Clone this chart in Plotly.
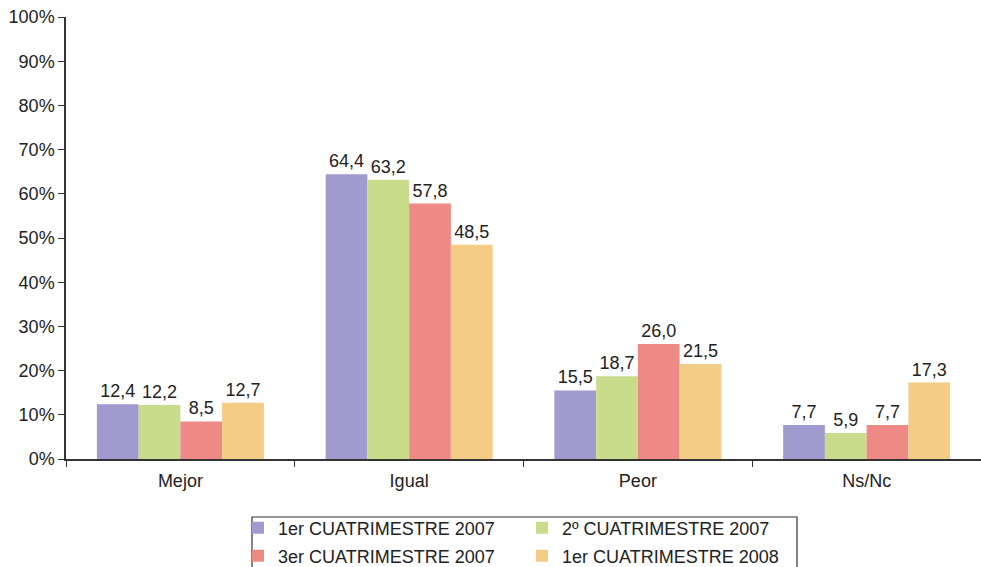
import plotly.graph_objects as go

# Opinion categories and the four survey waves
categories = ["Mejor", "Igual", "Peor", "Ns/Nc"]
series_names = [
    "1er CUATRIMESTRE 2007",
    "2º CUATRIMESTRE 2007",
    "3er CUATRIMESTRE 2007",
    "1er CUATRIMESTRE 2008",
]
values_1c_2007 = [12.4, 64.4, 15.5, 7.7]
values_2c_2007 = [12.2, 63.2, 18.7, 5.9]
values_3c_2007 = [8.5, 57.8, 26.0, 7.7]
values_1c_2008 = [12.7, 48.5, 21.5, 17.3]
y_ticks = [0, 10, 20, 30, 40, 50, 60, 70, 80, 90, 100]
y_tick_labels = ["0%", "10%", "20%", "30%", "40%", "50%",
                 "60%", "70%", "80%", "90%", "100%"]

series_values = [values_1c_2007, values_2c_2007, values_3c_2007, values_1c_2008]
colors = ["#a19ace", "#c9dc8c", "#ee8a86", "#f4cc86"]
# first row of the legend holds series 0 and 1, second row series 2 and 3
legend_ids = ["legend", "legend", "legend2", "legend2"]

FONT = "Liberation Sans, Arial, sans-serif"
FS = 18

fig = go.Figure()
for name, vals, col, lg in zip(series_names, series_values, colors, legend_ids):
    fig.add_trace(go.Bar(
        x=categories,
        y=vals,
        name=name,
        marker=dict(color=col, line=dict(width=0)),
        texttemplate="%{y:.1f}",
        textposition="outside",
        textfont=dict(family=FONT, size=FS, color="#222222"),
        cliponaxis=False,
        legend=lg,
    ))

# plot area spans 66..981 px horizontally, 17..459 px vertically
W, H = 981, 567
L, R, T, B = 66, 0, 17, 108
pw, ph = W - L - R, H - T - B


def px_x(x):
    return (x - L) / pw


def px_y(y):
    return (H - B - y) / ph


legend_common = dict(
    orientation="h",
    entrywidth=239,
    entrywidthmode="pixels",
    bgcolor="rgba(0,0,0,0)",
    borderwidth=0,
    font=dict(family=FONT, size=FS, color="#222222"),
    xanchor="left",
    yanchor="middle",
    itemwidth=30,
    traceorder="normal",
)

fig.update_layout(
    width=W,
    height=H,
    margin=dict(l=L, r=R, t=T, b=B, autoexpand=False),
    paper_bgcolor="white",
    plot_bgcolor="white",
    separators=",.",
    barmode="group",
    bargap=0.27,
    bargroupgap=0,
    font=dict(family=FONT, size=FS, color="#222222"),
    legend=dict(**legend_common, x=px_x(238), y=px_y(528)),
    legend2=dict(**legend_common, x=px_x(238), y=px_y(556)),
    xaxis=dict(
        showline=True,
        linecolor="#333333",
        linewidth=1.5,
        ticks="outside",
        tickson="boundaries",
        ticklen=6,
        tickcolor="#333333",
        showgrid=False,
        ticklabelstandoff=5,
        tickfont=dict(family=FONT, size=FS, color="#222222"),
        range=[-0.5, 3.5],
    ),
    yaxis=dict(
        range=[0, 100],
        tickvals=y_ticks,
        ticktext=y_tick_labels,
        showline=True,
        linecolor="#333333",
        linewidth=1.5,
        ticks="outside",
        ticklen=6,
        tickcolor="#333333",
        showgrid=False,
        zeroline=False,
        tickfont=dict(family=FONT, size=FS, color="#222222"),
    ),
    shapes=[dict(
        type="rect",
        xref="paper", yref="paper",
        x0=px_x(252), x1=px_x(797),
        y0=px_y(517), y1=px_y(570),
        line=dict(color="#333333", width=1.2),
        fillcolor="rgba(0,0,0,0)",
        layer="above",
    )],
)

fig.write_html("out.html")
